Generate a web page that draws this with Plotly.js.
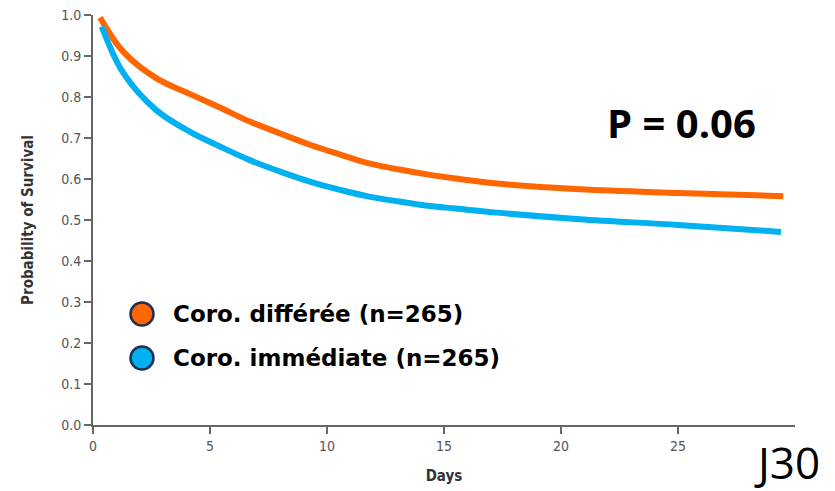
<!DOCTYPE html>
<html>
<head>
<meta charset="utf-8">
<script src="https://cdn.plot.ly/plotly-3.0.1.min.js"></script>
<style>html,body{margin:0;padding:0;background:#fff;}#chart{width:835px;height:491px;}</style>
</head>
<body>
<div id="chart"></div>
<script>
const daysDeferred = [0.3, 1.3, 2.7, 4.15, 5.4, 6.7, 8, 9.3, 10.6, 11.8, 13.1, 14.4, 15.5, 17.25, 20.8, 25, 29.5];
const survDeferred = [0.994, 0.91, 0.846, 0.807, 0.775, 0.74, 0.711, 0.683, 0.659, 0.638, 0.623, 0.61, 0.601, 0.589, 0.575, 0.566, 0.558];
const daysImmediate = [0.37, 1.3, 2.7, 4.15, 5.4, 6.7, 8, 9.3, 10.6, 11.8, 13.1, 14.4, 15.5, 17.25, 20.8, 25, 29.4];
const survImmediate = [0.972, 0.858, 0.768, 0.715, 0.68, 0.646, 0.618, 0.593, 0.573, 0.557, 0.545, 0.534, 0.528, 0.518, 0.502, 0.488, 0.471];
const seriesNames = ["Coro. différée (n=265)", "Coro. immédiate (n=265)"];
const seriesColors = ["#FF6600", "#00B0F0"];
const xTicks = [0, 5, 10, 15, 20, 25];
const yTicks = [0, 0.1, 0.2, 0.3, 0.4, 0.5, 0.6, 0.7, 0.8, 0.9, 1.0];
const pText = "P = 0.06";
const cornerText = "J30";

const tickFont = {family: "DejaVu Sans Condensed, Liberation Sans Narrow, sans-serif", size: 14, color: "#555"};
const titleFont = {family: "DejaVu Sans Condensed, sans-serif", size: 15, color: "#333"};

const traces = [
  {x: daysDeferred, y: survDeferred, mode: "lines", name: seriesNames[0], line: {color: seriesColors[0], width: 6, shape: "spline", smoothing: 1}, showlegend: false, hoverinfo: "skip"},
  {x: daysImmediate, y: survImmediate, mode: "lines", name: seriesNames[1], line: {color: seriesColors[1], width: 6, shape: "spline", smoothing: 1}, showlegend: false, hoverinfo: "skip"}
];

// manual legend (circle + label), positioned in paper coordinates
const legendX = 0.0698, legendTextX = 0.112;
const legendY = [0.2707, 0.1634];
const shapes = [];
const annotations = [];
seriesNames.forEach((name, i) => {
  shapes.push({type: "circle", xref: "paper", yref: "paper", xsizemode: "pixel", ysizemode: "pixel",
    xanchor: legendX, yanchor: legendY[i], x0: -11.5, x1: 11.5, y0: -11.5, y1: 11.5,
    fillcolor: seriesColors[i], line: {color: "#1F3050", width: 2.5}});
  annotations.push({text: "<b>" + name + "</b>", xref: "paper", yref: "paper", x: legendTextX, y: legendY[i],
    xanchor: "left", yanchor: "middle", showarrow: false, borderpad: 0,
    font: {family: "DejaVu Sans, sans-serif", size: 23, color: "#000"}});
});
annotations.push({text: "<b>" + pText + "</b>", xref: "paper", yref: "paper", x: 0.839, y: 0.739, xanchor: "center", yanchor: "middle", showarrow: false, font: {family: "Open Sans, sans-serif", size: 40, color: "#000"}});
annotations.push({text: cornerText, xref: "paper", yref: "paper", x: 0.9886, y: -0.09, xanchor: "center", yanchor: "middle", showarrow: false, borderpad: 0, font: {family: "Open Sans, sans-serif", size: 44, color: "#000"}});

const layout = {
  width: 835, height: 491,
  margin: {l: 93, r: 40, t: 15, b: 66},
  paper_bgcolor: "#fff", plot_bgcolor: "#fff",
  showlegend: false,
  xaxis: {
    range: [0, 30], tickvals: xTicks, ticktext: xTicks.map(String),
    showgrid: false, zeroline: false, showline: true, linecolor: "#666", linewidth: 2,
    ticks: "outside", ticklen: 7, tickcolor: "#666", tickwidth: 1.5,
    tickfont: tickFont,
    title: {text: "<b>Days</b>", font: titleFont, standoff: 18}
  },
  yaxis: {
    range: [0, 1.0], tickvals: yTicks, ticktext: yTicks.map(v => v.toFixed(1)),
    showgrid: false, zeroline: false, showline: true, linecolor: "#666", linewidth: 2,
    ticks: "outside", ticklen: 7, tickcolor: "#666", tickwidth: 1.5,
    tickfont: tickFont,
    title: {text: "<b>Probability of Survival</b>", font: titleFont, standoff: 24}
  },
  shapes: shapes,
  annotations: annotations
};

Plotly.newPlot("chart", traces, layout, {displayModeBar: false, staticPlot: true});
</script>
</body>
</html>
